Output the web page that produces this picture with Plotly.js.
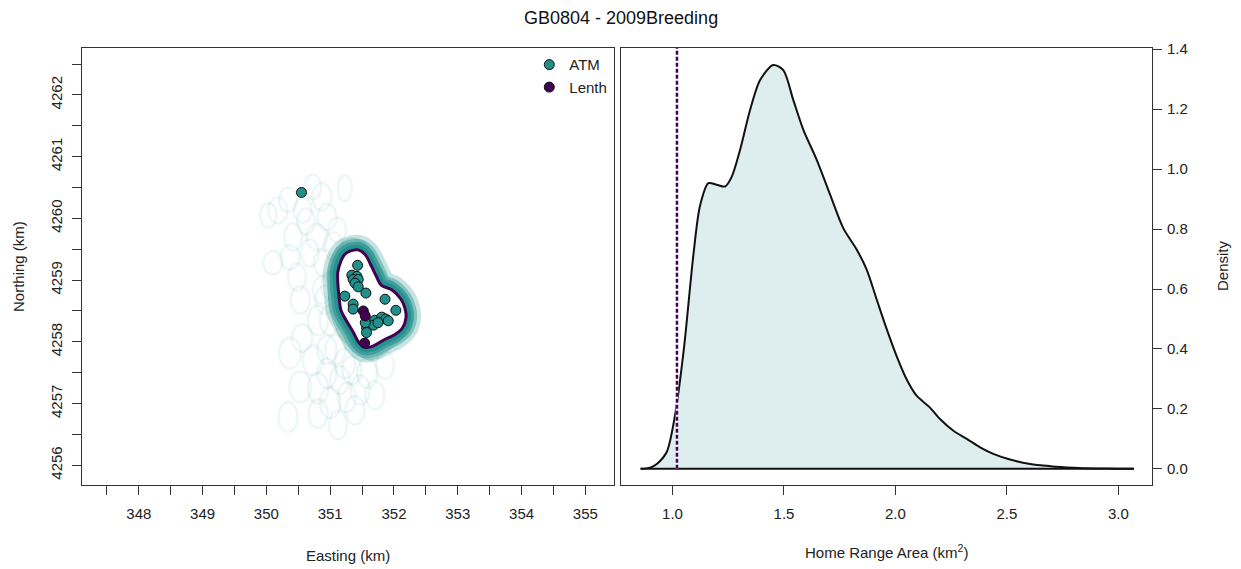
<!DOCTYPE html>
<html>
<head>
<meta charset="utf-8">
<script src="https://cdn.plot.ly/plotly-3.0.1.min.js"></script>
<style>html,body{margin:0;padding:0;background:#fff;}#chart{width:1241px;height:569px;}</style>
</head>
<body>
<div id="chart"></div>
<script>
// ---- Left panel: locations (km) ----
const atmEasting  = [351.43,351.34,351.42,351.36,351.44,351.39,351.44,351.56,351.23,351.86,351.36,351.36,352.03,351.57,351.57,351.70,351.68,351.81,351.87,351.91,351.75,351.55,350.55];
const atmNorthing = [4259.24,4259.08,4259.06,4259.01,4259.01,4258.95,4258.89,4258.79,4258.74,4258.69,4258.61,4258.53,4258.51,4258.23,4258.15,4258.35,4258.27,4258.40,4258.37,4258.34,4258.31,4258.31,4260.42];
const lenthEasting  = [351.52,351.55,351.54];
const lenthNorthing = [4258.50,4258.42,4257.98];

// Lenth home-range contour
const lenthContourX = [351.31,351.44,351.55,351.64,351.72,351.80,351.97,352.11,352.17,352.19,352.13,352.00,351.84,351.67,351.55,351.45,351.36,351.25,351.17,351.14,351.12,351.12,351.17,351.23,351.31];
const lenthContourY = [4259.47,4259.49,4259.41,4259.24,4259.07,4258.92,4258.84,4258.69,4258.55,4258.40,4258.22,4258.11,4258.03,4257.93,4257.91,4257.99,4258.16,4258.35,4258.51,4258.72,4258.95,4259.13,4259.31,4259.42,4259.47];
// outer extent of the ATM contour band
const atmBandX = [351.31,351.51,351.67,351.78,351.91,352.09,352.22,352.28,352.27,352.17,352.00,351.81,351.62,351.47,351.31,351.17,351.06,350.98,350.97,350.97,351.03,351.15,351.31];
const atmBandY = [4259.68,4259.63,4259.45,4259.23,4259.03,4258.89,4258.72,4258.51,4258.27,4258.09,4257.93,4257.78,4257.70,4257.77,4257.90,4258.06,4258.29,4258.55,4258.84,4259.13,4259.39,4259.58,4259.68];

// faint ATM posterior ellipses (centre, half-widths in km)
const ellCx = [350.18,350.34,350.73,350.87,351.23,350.57,350.95,350.10,350.42,350.79,351.11,350.37,350.68,350.89,350.37,350.56,350.53,350.34,350.81,350.95,351.00,351.15,351.26,351.47,351.58,350.81,351.23,350.95,350.73,350.92,350.81,351.00,350.48,351.70,351.86,350.03,351.39,350.53,351.12,350.99,350.87,351.08,351.34,350.62,351.05];
const ellCy = [4260.13,4260.30,4260.51,4260.35,4260.49,4260.13,4260.02,4259.28,4259.70,4259.70,4259.81,4259.37,4259.44,4259.28,4257.82,4258.06,4257.27,4256.78,4257.25,4257.49,4257.01,4257.38,4257.10,4257.22,4257.49,4256.84,4257.65,4257.87,4257.70,4258.68,4258.35,4258.92,4259.05,4257.14,4257.62,4260.05,4256.89,4258.68,4256.65,4258.35,4258.84,4257.87,4257.54,4259.95,4259.55];
const ellRx = [0.15,0.14,0.13,0.15,0.11,0.14,0.15,0.15,0.14,0.16,0.14,0.15,0.14,0.15,0.17,0.16,0.17,0.15,0.16,0.15,0.16,0.15,0.14,0.15,0.16,0.15,0.16,0.15,0.16,0.15,0.16,0.14,0.14,0.15,0.14,0.13,0.15,0.15,0.14,0.15,0.14,0.16,0.15,0.14,0.15];
const ellRy = [0.21,0.20,0.20,0.22,0.21,0.20,0.21,0.19,0.22,0.21,0.20,0.20,0.22,0.21,0.25,0.22,0.25,0.24,0.25,0.24,0.25,0.23,0.24,0.24,0.24,0.23,0.24,0.23,0.24,0.23,0.24,0.22,0.22,0.23,0.22,0.20,0.23,0.22,0.23,0.24,0.22,0.24,0.23,0.21,0.22];

// ---- Right panel: density of home range area ----
const areaKm2 = [0.857,0.90,0.931,0.974,1.011,1.051,1.093,1.123,1.161,1.198,1.236,1.266,1.303,1.348,1.393,1.452,1.497,1.542,1.587,1.647,1.707,1.766,1.826,1.871,1.916,1.961,2.005,2.050,2.095,2.154,2.200,2.260,2.320,2.380,2.439,2.514,2.604,2.694,2.80,2.90,3.00,3.07];
const density = [0.0,0.004,0.017,0.056,0.177,0.40,0.709,0.876,0.953,0.948,0.942,0.975,1.064,1.197,1.297,1.347,1.330,1.230,1.131,1.031,0.915,0.803,0.732,0.665,0.565,0.466,0.377,0.299,0.244,0.205,0.166,0.127,0.100,0.072,0.050,0.031,0.016,0.009,0.004,0.0015,0.0005,0.0];
const lenthArea = 1.02;

// tick labels
const eastTicks = [348,349,350,351,352,353,354,355];
const northTicks = [4256,4257,4258,4259,4260,4261,4262];
const areaTicks = [1.0,1.5,2.0,2.5,3.0];
const densTicks = [0.0,0.2,0.4,0.6,0.8,1.0,1.2,1.4];

const TEAL = '#21908C', PURPLE = '#440154';
const FONT = 'Liberation Sans, Arial, sans-serif';

function contourLine(color, width) {
  return {x: lenthContourX, y: lenthContourY, mode: 'lines', line: {color: color, width: width, shape: 'spline', smoothing: 1},
    xaxis: 'x', yaxis: 'y', showlegend: false, hoverinfo: 'skip'};
}

const traces = [
  {x: atmBandX, y: atmBandY, mode: 'lines', fill: 'toself', fillcolor: 'rgba(33,144,140,0.22)',
   line: {color: 'rgba(33,144,140,0.15)', width: 1, shape: 'spline', smoothing: 1}, xaxis: 'x', yaxis: 'y', showlegend: false, hoverinfo: 'skip'},
  contourLine('rgba(33,144,140,0.25)', 30),
  contourLine('rgba(33,144,140,0.4)', 22),
  contourLine('rgba(33,144,140,0.6)', 16),
  contourLine('rgba(33,144,140,0.9)', 10),
  {x: lenthContourX, y: lenthContourY, mode: 'lines', fill: 'toself', fillcolor: '#ffffff', line: {color: 'rgba(0,0,0,0)', width: 0, shape: 'spline', smoothing: 1},
   xaxis: 'x', yaxis: 'y', showlegend: false, hoverinfo: 'skip'},
  contourLine(PURPLE, 3),
  {x: atmEasting, y: atmNorthing, mode: 'markers', name: 'ATM', legendrank: 1,
   marker: {size: 10, color: TEAL, line: {color: '#111', width: 1}}, xaxis: 'x', yaxis: 'y'},
  {x: lenthEasting, y: lenthNorthing, mode: 'markers', name: 'Lenth', legendrank: 2,
   marker: {size: 10, color: PURPLE, line: {color: '#111', width: 1}}, xaxis: 'x', yaxis: 'y'},
  // right panel
  {x: areaKm2, y: density, mode: 'lines', fill: 'tozeroy', fillcolor: 'rgba(33,144,140,0.15)',
   line: {color: '#111', width: 2, shape: 'spline', smoothing: 0.8}, xaxis: 'x2', yaxis: 'y2', showlegend: false, hoverinfo: 'skip'},
  {x: [areaKm2[0], areaKm2[areaKm2.length-1]], y: [0, 0], mode: 'lines', line: {color: '#111', width: 2},
   xaxis: 'x2', yaxis: 'y2', showlegend: false, hoverinfo: 'skip'},
  {x: [lenthArea, lenthArea], y: [0, 1.404], mode: 'lines', line: {color: '#ffffff', width: 2.5},
   xaxis: 'x2', yaxis: 'y2', showlegend: false, hoverinfo: 'skip'},
  {x: [lenthArea, lenthArea], y: [0, 1.404], mode: 'lines', line: {color: PURPLE, width: 2.5, dash: '4px,2px'},
   xaxis: 'x2', yaxis: 'y2', showlegend: false, hoverinfo: 'skip'}
];

const shapes = ellCx.map((cx, i) => ({
  type: 'circle', xref: 'x', yref: 'y', layer: 'below',
  x0: cx - ellRx[i], x1: cx + ellRx[i], y0: ellCy[i] - ellRy[i], y1: ellCy[i] + ellRy[i],
  line: {color: 'rgba(33,144,140,0.075)', width: 2.5}, fillcolor: 'rgba(0,0,0,0)'
}));

const fmt1 = v => v.toFixed(1);
const axBase = {showgrid: false, zeroline: false, showline: true, mirror: true, linecolor: '#333', linewidth: 1,
  ticks: 'outside', ticklen: 9, tickcolor: '#333', tickwidth: 1, tickfont: {family: FONT, size: 15, color: '#222'}};
const minorHalf = {ticks: 'outside', ticklen: 9, tickcolor: '#333', tickwidth: 1, dtick: 0.5, showgrid: false};
const yDom = [0.1476, 0.9156];

const layout = {
  width: 1241, height: 569, margin: {l: 0, r: 0, t: 0, b: 0},
  paper_bgcolor: '#fff', plot_bgcolor: '#fff',
  font: {family: FONT, color: '#222'},
  showlegend: true,
  legend: {x: 0.4265, y: 0.915, xanchor: 'left', yanchor: 'top', bgcolor: 'rgba(0,0,0,0)',
    font: {family: FONT, size: 15, color: '#222'}, itemwidth: 30, tracegroupgap: 0},
  xaxis: Object.assign({}, axBase, {domain: [0.0661, 0.4948], range: [347.11, 355.45], anchor: 'y',
    tickvals: eastTicks, ticktext: eastTicks.map(String), ticklabelstandoff: 6,
    minor: Object.assign({tick0: 347.5}, minorHalf)}),
  yaxis: Object.assign({}, axBase, {domain: yDom, range: [4255.68, 4262.76], anchor: 'x',
    tickvals: northTicks, ticktext: northTicks.map(String), tickangle: -90, ticklabelstandoff: 4,
    minor: Object.assign({tick0: 4256.5}, minorHalf)}),
  xaxis2: Object.assign({}, axBase, {domain: [0.5004, 0.9283], range: [0.769, 3.151], anchor: 'y2',
    tickvals: areaTicks, ticktext: areaTicks.map(fmt1), ticklabelstandoff: 6}),
  yaxis2: Object.assign({}, axBase, {domain: yDom, range: [-0.054, 1.404], anchor: 'x2', side: 'right',
    tickvals: densTicks, ticktext: densTicks.map(fmt1), ticklabelstandoff: 2}),
  shapes: shapes,
  annotations: [
    {text: 'GB0804 - 2009Breeding', xref: 'paper', yref: 'paper', x: 0.5, y: 0.968, showarrow: false,
     font: {family: FONT, size: 18, color: '#111'}, xanchor: 'center', yanchor: 'middle'},
    {text: 'Northing (km)', xref: 'paper', yref: 'paper', x: 0.0145, y: 0.5325, textangle: -90, showarrow: false,
     font: {family: FONT, size: 15, color: '#222'}, xanchor: 'center', yanchor: 'middle'},
    {text: 'Easting (km)', xref: 'paper', yref: 'paper', x: 0.2804, y: 0.0246, showarrow: false,
     font: {family: FONT, size: 15, color: '#222'}, xanchor: 'center', yanchor: 'middle'},
    {text: 'Home Range Area (km<sup>2</sup>)', xref: 'paper', yref: 'paper', x: 0.7147, y: 0.0316, showarrow: false,
     font: {family: FONT, size: 15, color: '#222'}, xanchor: 'center', yanchor: 'middle'},
    {text: 'Density', xref: 'paper', yref: 'paper', x: 0.9847, y: 0.5325, textangle: -90, showarrow: false,
     font: {family: FONT, size: 15, color: '#222'}, xanchor: 'center', yanchor: 'middle'}
  ]
};

Plotly.newPlot('chart', traces, layout, {staticPlot: true, displayModeBar: false});
</script>
</body>
</html>
